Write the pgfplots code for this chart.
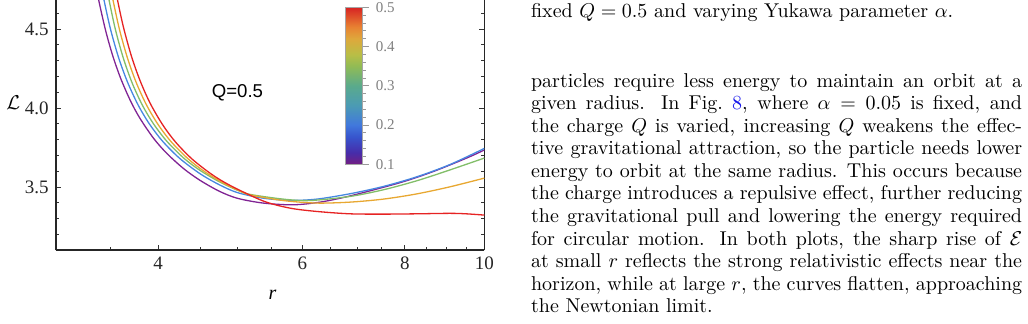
\documentclass[border=0pt]{standalone}
\usepackage{fontspec}
\usepackage{pgfplots}
\pgfplotsset{compat=1.18}
\newfontfamily\timesfont{Liberation Serif}
\newfontfamily\arialfont{Liberation Sans}

\definecolor{cA}{RGB}{128,36,148}
\definecolor{cB}{RGB}{70,135,225}
\definecolor{cC}{RGB}{130,190,105}
\definecolor{cD}{RGB}{232,168,50}
\definecolor{cE}{RGB}{230,35,35}
\definecolor{linkblue}{RGB}{20,20,235}

% justified line of the running text
\newcommand\jl[1]{\makebox[245.5pt][s]{#1}}

\begin{document}
\begin{tikzpicture}
\useasboundingbox (0pt,0pt) rectangle (514pt,-162pt);
\begin{axis}[
  at={(27.85pt,-125.15pt)}, anchor=south west,
  scale only axis, width=214.3pt, height=125.15pt,
  xmode=log, xmin=3, xmax=10, ymin=3.1, ymax=4.685,
  axis x line*=bottom,
  xtick={4,6,8,10}, xticklabels={4,6,8,10},
  minor xtick={3.5,4.5,5,5.5,6.5,7,7.5,8.5,9,9.5},
  ytick={3.5,4,4.5}, yticklabels={3.5,4.0,4.5},
  minor ytick={3.2,3.3,3.4,3.6,3.7,3.8,3.9,4.1,4.2,4.3,4.4,4.6},
  tick align=inside,
  major tick length=2.8pt, minor tick length=1.5pt,
  tick style={black!80, line width=0.5pt},
  axis line style={black!85, line width=0.8pt},
  ticklabel style={font=\timesfont\fontsize{9.5}{11}\selectfont, text=black!85},
  xlabel={\timesfont\itshape\fontsize{10}{12}\selectfont r},
  ylabel={$\mathcal{L}$},
  every axis x label/.style={at={(rel axis cs:0.506,-0.179)}, anchor=center},
  every axis y label/.style={at={(rel axis cs:-0.099,0.588)}, anchor=center},
  colormap={alphamap}{
    rgb255(0cm)=(115,30,130); rgb255(0.75cm)=(70,45,170);
    rgb255(1.75cm)=(55,85,205); rgb255(2.5cm)=(65,120,220);
    rgb255(3.75cm)=(75,155,180); rgb255(5cm)=(90,170,140);
    rgb255(6.25cm)=(145,187,85); rgb255(7cm)=(185,190,70);
    rgb255(8cm)=(222,168,60); rgb255(8.75cm)=(232,130,50);
    rgb255(10cm)=(215,35,35)},
  point meta min=0.1, point meta max=0.5,
  colorbar,
  colorbar style={
    at={(parent axis.south west)}, anchor=south west,
    xshift=136.5pt, yshift=43pt,
    scale only axis, width=8.5pt, height=78.5pt,
    ytick={0.1,0.2,0.3,0.4,0.5}, yticklabels={0.1,0.2,0.3,0.4,0.5},
    minor y tick num=4,
    ytick pos=right, yticklabel pos=right,
    tick align=outside, major tick length=3pt, minor tick length=1.6pt,
    tick style={black!40, line width=0.4pt},
    axis line style={black!35, line width=0.4pt},
    yticklabel style={font=\timesfont\fontsize{7.5}{9}\selectfont, text=black!50},
  },
]
% alpha = 0.1
\addplot[smooth, line width=0.65pt, color=cA] coordinates {
(3.350,4.809) (3.385,4.685) (3.450,4.496) (3.520,4.335) (3.600,4.190)
(3.700,4.048) (3.800,3.937) (3.950,3.809) (4.100,3.713) (4.300,3.616)
(4.500,3.543) (4.750,3.474) (5.000,3.429) (5.375,3.399) (5.843,3.388)
(6.303,3.405) (6.857,3.444) (7.891,3.528) (8.657,3.598) (9.525,3.685)
(10.00,3.735)};
% alpha = 0.2
\addplot[smooth, line width=0.65pt, color=cB] coordinates {
(3.400,4.813) (3.436,4.685) (3.500,4.499) (3.580,4.320) (3.670,4.166)
(3.780,4.022) (3.900,3.903) (4.050,3.791) (4.250,3.682) (4.500,3.585)
(4.750,3.515) (5.000,3.465) (5.375,3.430) (5.794,3.416) (6.245,3.424)
(6.857,3.458) (7.529,3.504) (8.270,3.565) (9.081,3.643) (10.00,3.745)};
% alpha = 0.3
\addplot[smooth, line width=0.65pt, color=cC] coordinates {
(3.450,4.812) (3.485,4.685) (3.550,4.493) (3.630,4.313) (3.720,4.158)
(3.830,4.016) (3.950,3.900) (4.100,3.790) (4.300,3.683) (4.500,3.606)
(4.750,3.534) (5.000,3.480) (5.178,3.454) (5.686,3.424) (6.128,3.415)
(6.857,3.441) (7.529,3.483) (8.270,3.540) (9.081,3.609) (10.00,3.684)};
% alpha = 0.4
\addplot[smooth, line width=0.65pt, color=cD] coordinates {
(3.490,4.804) (3.524,4.685) (3.590,4.495) (3.670,4.318) (3.760,4.165)
(3.870,4.023) (4.000,3.896) (4.150,3.787) (4.350,3.680) (4.550,3.601)
(4.800,3.527) (5.050,3.472) (5.178,3.451) (5.686,3.415) (6.245,3.399)
(6.857,3.405) (7.529,3.424) (8.270,3.457) (9.081,3.502) (10.00,3.557)};
% alpha = 0.5
\addplot[smooth, line width=0.65pt, color=cE] coordinates {
(3.530,4.820) (3.569,4.685) (3.630,4.511) (3.710,4.332) (3.800,4.178)
(3.910,4.033) (4.050,3.896) (4.200,3.786) (4.400,3.678) (4.650,3.581)
(4.900,3.510) (5.375,3.412) (5.794,3.367) (6.245,3.346) (6.857,3.331)
(7.529,3.329) (8.270,3.331) (9.081,3.334) (9.500,3.331) (10.00,3.323)};
\node[font=\arialfont\fontsize{9.3}{11}\selectfont] at (rel axis cs:0.424,0.630) {Q=0.5};
\end{axis}

% running text column
\begin{scope}[every node/.style={anchor=base west, inner sep=0pt}]
\node at (265.35pt,-8.65pt) {fixed $Q = 0.5$ and varying Yukawa parameter $\alpha$.};
\node at (265.35pt,-43.65pt) {\jl{particles require less energy to maintain an orbit at a}};
\node at (265.35pt,-54.95pt) {\jl{given radius.  In Fig.~\textcolor{linkblue}{8}, where $\alpha = 0.05$ is fixed, and}};
\node at (265.35pt,-66.2pt) {\jl{the charge $Q$ is varied, increasing $Q$ weakens the effec-}};
\node at (265.35pt,-77.5pt) {\jl{tive gravitational attraction, so the particle needs lower}};
\node at (265.35pt,-88.75pt) {\jl{energy to orbit at the same radius. This occurs because}};
\node at (265.35pt,-100pt) {\jl{the charge introduces a repulsive effect, further reducing}};
\node at (265.35pt,-111.3pt) {\jl{the gravitational pull and lowering the energy required}};
\node at (265.35pt,-122.6pt) {\jl{for circular motion. In both plots, the sharp rise of $\mathcal{E}$}};
\node at (265.35pt,-133.85pt) {\jl{at small $r$ reflects the strong relativistic effects near the}};
\node at (265.35pt,-145.15pt) {\jl{horizon, while at large $r$, the curves flatten, approaching}};
\node at (265.35pt,-156.4pt) {the Newtonian limit.};
\end{scope}
\end{tikzpicture}
\end{document}
